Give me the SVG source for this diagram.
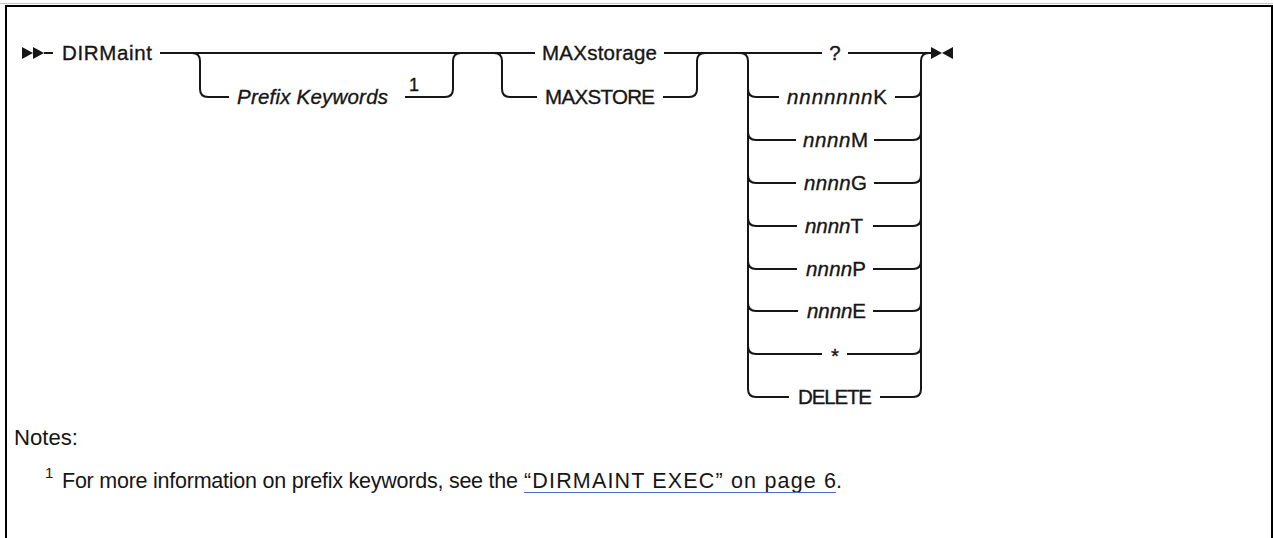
<svg xmlns="http://www.w3.org/2000/svg" width="1273" height="538" viewBox="0 0 1273 538">
<defs>
<style>
.rail{fill:none;stroke:#161616;stroke-width:2;}
.mark{fill:#161616;stroke:none;}
.lbl{font-family:"Liberation Sans",Arial,sans-serif;font-size:20.5px;fill:#161616;stroke:#161616;stroke-width:0.35;}
.it{font-style:italic;}
.sup{font-family:"Liberation Sans",Arial,sans-serif;font-size:18px;fill:#161616;stroke:#161616;stroke-width:0.35;}
.note{font-family:"Liberation Sans",Arial,sans-serif;font-size:21.5px;fill:#161616;}
.fsup{font-family:"Liberation Sans",Arial,sans-serif;font-size:15px;fill:#161616;}
</style>
</defs>
<rect x="0" y="0" width="1273" height="538" fill="#ffffff"/>
<g id="frame">
<line x1="0" y1="3.5" x2="1273" y2="3.5" stroke="#c8c8c8" stroke-width="1"/>
<path d="M6,538 V6 H1272 V538" fill="none" stroke="#000" stroke-width="2"/>
</g>
<g id="connectors">
<path class="rail" d="M44,53 H53"/>
<path class="rail" d="M160,53 H535"/>
<path class="rail" d="M192,53 Q200,53 200,61 V89 Q200,97 208,97 H229"/>
<path class="rail" d="M405,97 H445 Q453,97 453,89 V61 Q453,53 461,53"/>
<path class="rail" d="M494,53 Q502,53 502,61 V89 Q502,97 510,97 H537"/>
<path class="rail" d="M663,97 H689 Q697,97 697,89 V61 Q697,53 705,53"/>
<path class="rail" d="M664,53 H822"/>
<path class="rail" d="M848,53 H932"/>
<path class="rail" d="M740,53 Q748,53 748,61 V389 Q748,397 756,397 H789"/>
<path class="rail" d="M880,397 H913 Q921,397 921,389 V61 Q921,53 929,53"/>
<path class="rail" d="M748,89 Q748,97 756,97 H779"/>
<path class="rail" d="M895,97 H913 Q921,97 921,89"/>
<path class="rail" d="M748,132 Q748,140 756,140 H796"/>
<path class="rail" d="M874,140 H913 Q921,140 921,132"/>
<path class="rail" d="M748,175 Q748,183 756,183 H796"/>
<path class="rail" d="M874,183 H913 Q921,183 921,175"/>
<path class="rail" d="M748,218 Q748,226 756,226 H797"/>
<path class="rail" d="M873,226 H913 Q921,226 921,218"/>
<path class="rail" d="M748,261 Q748,269 756,269 H797"/>
<path class="rail" d="M873,269 H913 Q921,269 921,261"/>
<path class="rail" d="M748,303 Q748,311 756,311 H798"/>
<path class="rail" d="M873,311 H913 Q921,311 921,303"/>
<path class="rail" d="M748,346 Q748,354 756,354 H822"/>
<path class="rail" d="M847,354 H913 Q921,354 921,346"/>
</g>
<g id="start">
<polygon class="mark" points="22,47 33,53 22,59"/>
<polygon class="mark" points="33,47 44,53 33,59"/>
</g>
<g id="end">
<polygon class="mark" points="931,47 942,53 931,59"/>
<polygon class="mark" points="953,47 942,53 953,59"/>
</g>
<g id="n-dirmaint"><text class="lbl" x="62" y="60" textLength="90" lengthAdjust="spacing">DIRMaint</text></g>
<g id="n-prefix"><text class="lbl it" x="237" y="104" textLength="151" lengthAdjust="spacing">Prefix Keywords</text><text class="sup" x="414" y="91" text-anchor="middle">1</text></g>
<g id="n-maxstorage"><text class="lbl" x="542" y="60" textLength="115" lengthAdjust="spacing">MAXstorage</text></g>
<g id="n-maxstore"><text class="lbl" x="545" y="104" textLength="110" lengthAdjust="spacing">MAXSTORE</text></g>
<g id="n-query"><text class="lbl" x="835" y="60" text-anchor="middle">?</text></g>
<g id="n-k"><text class="lbl" x="787" y="104" textLength="100" lengthAdjust="spacing"><tspan class="it">nnnnnnn</tspan>K</text></g>
<g id="n-m"><text class="lbl" x="803" y="147" textLength="65" lengthAdjust="spacing"><tspan class="it">nnnn</tspan>M</text></g>
<g id="n-g"><text class="lbl" x="804" y="190" textLength="63" lengthAdjust="spacing"><tspan class="it">nnnn</tspan>G</text></g>
<g id="n-t"><text class="lbl" x="805" y="233" textLength="58" lengthAdjust="spacing"><tspan class="it">nnnn</tspan>T</text></g>
<g id="n-p"><text class="lbl" x="806" y="276" textLength="60" lengthAdjust="spacing"><tspan class="it">nnnn</tspan>P</text></g>
<g id="n-e"><text class="lbl" x="807" y="318" textLength="59" lengthAdjust="spacing"><tspan class="it">nnnn</tspan>E</text></g>
<g id="n-star"><text class="lbl" x="835" y="362.5" text-anchor="middle">*</text></g>
<g id="n-delete"><text class="lbl" x="798" y="404" textLength="74" lengthAdjust="spacing">DELETE</text></g>
<g id="notes">
<text class="note" x="14" y="445" textLength="64" lengthAdjust="spacingAndGlyphs">Notes:</text>
<text class="fsup" x="45" y="478">1</text>
<text class="note" x="62" y="488" textLength="456" lengthAdjust="spacing">For more information on prefix keywords, see the</text>
<text class="note" x="524" y="488" textLength="312" lengthAdjust="spacing">“DIRMAINT EXEC” on page 6</text>
<text class="note" x="836" y="488">.</text>
<line x1="524" y1="492.5" x2="836" y2="492.5" stroke="#4a6cc4" stroke-width="1"/>
</g>
</svg>
